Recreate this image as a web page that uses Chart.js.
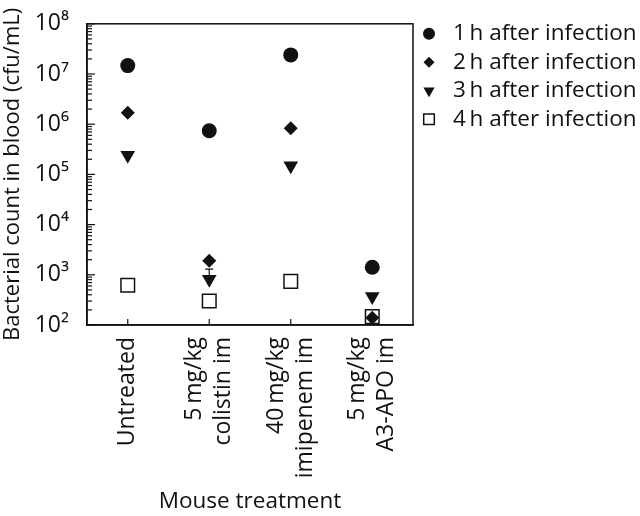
<!DOCTYPE html>
<html>
<head>
<meta charset="utf-8">
<script src="https://cdn.jsdelivr.net/npm/chart.js@4"></script>
<style>
  body { margin: 0; background: #fff; }
  #wrap { width: 640px; height: 516px; }
</style>
</head>
<body>
<div id="wrap"><canvas id="chart"></canvas></div>
<script>
var categories = ['Untreated', ['5\u2009mg/kg', 'colistin im'], ['40\u2009mg/kg', 'imipenem im'], ['5\u2009mg/kg', 'A3-APO im']];
var h1 = [1.47e7, 7.4e5, 2.4e7, 1410];
var h2 = [1.7e6, 1900, 8.3e5, 140];
var h3 = [2.4e5, 815, 1.48e5, 370];
var h4 = [620, 300, 740, 147];
var h3Upper = [null, 1300, null, null];
var seriesNames = ['1\u2009h after infection', '2\u2009h after infection', '3\u2009h after infection', '4\u2009h after infection'];
var yTicks = [1e2, 1e3, 1e4, 1e5, 1e6, 1e7, 1e8];
var sup = { '2': '\u00b2', '3': '\u00b3', '4': '\u2074', '5': '\u2075', '6': '\u2076', '7': '\u2077', '8': '\u2078' };

var FONT = "'Open Sans', sans-serif";
var INK = '#111';

// legend markers are smaller than the plot ones
var legendRadius = [6, 5.5, 6.5, 7.5];

function marker(c, style, r, rot, x, y, fill) {
  c.save();
  c.translate(x, y);
  c.rotate(rot * Math.PI / 180);
  c.beginPath();
  if (style === 'circle') {
    c.arc(0, 0, r, 0, Math.PI * 2);
  } else if (style === 'rectRot') {
    c.moveTo(-r, 0); c.lineTo(0, -r); c.lineTo(r, 0); c.lineTo(0, r); c.closePath();
  } else if (style === 'triangle') {
    for (var k = 0; k < 3; k++) {
      var a = k * 2 * Math.PI / 3;
      c[k ? 'lineTo' : 'moveTo'](Math.sin(a) * r, -Math.cos(a) * r);
    }
    c.closePath();
  } else {
    var s = r * Math.SQRT1_2;
    c.rect(-s, -s, 2 * s, 2 * s);
  }
  c.fillStyle = fill;
  c.fill();
  if (fill === '#fff') { c.lineWidth = 1.5; c.strokeStyle = INK; c.stroke(); }
  c.restore();
}

// frame, inner ticks, category labels, the one error bar and the legend
var extras = {
  id: 'extras',
  afterDraw: function (chart) {
    var c = chart.ctx, a = chart.chartArea;
    var y = chart.scales.y, x = chart.scales.x;
    c.save();
    c.strokeStyle = INK;
    c.lineWidth = 1.5;
    c.strokeRect(a.left, a.top, a.right - a.left, a.bottom - a.top);
    c.lineWidth = 1.2;
    y.ticks.forEach(function (t) {
      var py = y.getPixelForValue(t.value);
      var dec = Math.abs(Math.log10(t.value) % 1) < 1e-6;
      c.beginPath();
      c.moveTo(a.left, py);
      c.lineTo(a.left + (dec ? 8 : 5), py);
      c.stroke();
    });

    c.font = '23px ' + FONT;
    c.fillStyle = INK;
    c.textAlign = 'right';
    c.textBaseline = 'middle';
    categories.forEach(function (cat, i) {
      var px = x.getPixelForValue(i);
      c.beginPath();
      c.moveTo(px, a.bottom);
      c.lineTo(px, a.bottom - 6);
      c.stroke();
      var lines = [].concat(cat);
      lines.forEach(function (ln, j) {
        c.save();
        c.translate(px + (j - (lines.length - 1) / 2) * 29, a.bottom + 12);
        c.rotate(-Math.PI / 2);
        c.fillText(ln, 0, 0);
        c.restore();
      });
    });

    var meta = chart.getDatasetMeta(2);
    h3Upper.forEach(function (v, i) {
      if (v == null) return;
      var px = x.getPixelForValue(i);
      var top = y.getPixelForValue(v);
      var mid = meta.data[i].y;
      c.beginPath();
      c.moveTo(px - 4, top);
      c.lineTo(px + 4, top);
      c.moveTo(px, top);
      c.lineTo(px, mid);
      c.stroke();
    });

    c.font = '22.5px ' + FONT;
    c.textAlign = 'left';
    chart.data.datasets.forEach(function (d, i) {
      var ly = a.top + 10 + i * 28.5;
      marker(c, d.pointStyle, legendRadius[i], d.rotation, a.right + 16, ly, d.backgroundColor);
      c.fillStyle = INK;
      c.fillText(d.label, a.right + 40, ly);
    });
    c.restore();
  }
};

function ds(label, data, style, radius, rot, fill) {
  return {
    label: label,
    data: data,
    pointStyle: style,
    pointRadius: radius,
    pointHoverRadius: radius,
    rotation: rot,
    backgroundColor: fill,
    borderColor: INK,
    borderWidth: fill === '#fff' ? 1.5 : 0,
    showLine: false
  };
}

new Chart(document.getElementById('chart'), {
  type: 'line',
  data: {
    labels: categories,
    datasets: [
      ds(seriesNames[0], h1, 'circle', 7.5, 0, INK),
      ds(seriesNames[1], h2, 'rectRot', 7, 0, INK),
      ds(seriesNames[2], h3, 'triangle', 8.5, 180, INK),
      ds(seriesNames[3], h4, 'rect', 9.6, 0, '#fff')
    ]
  },
  options: {
    responsive: true,
    maintainAspectRatio: false,
    animation: false,
    layout: { padding: { top: 22, left: 0, right: 227, bottom: 0 } },
    plugins: {
      tooltip: { enabled: false },
      legend: { display: false }
    },
    scales: {
      x: {
        type: 'category',
        offset: true,
        grid: { display: false, drawTicks: false },
        border: { display: true, color: INK, width: 1.5 },
        afterFit: function (s) { s.height = 191; },
        ticks: { display: false },
        title: {
          display: true,
          text: 'Mouse treatment',
          color: INK,
          font: { family: FONT, size: 22.5 },
          padding: { top: 0, bottom: 1 }
        }
      },
      y: {
        type: 'logarithmic',
        min: 100,
        max: 1e8,
        grid: { display: false },
        border: { display: true, color: INK, width: 1.5 },
        afterFit: function (s) { s.width = 87; },
        afterBuildTicks: function (s) {
          var t = [];
          for (var e = 2; e < 8; e++) {
            for (var m = 1; m < 10; m++) t.push({ value: m * Math.pow(10, e) });
          }
          t.push({ value: 1e8 });
          s.ticks = t;
        },
        ticks: {
          autoSkip: false,
          color: INK,
          font: { family: FONT, size: 23 },
          padding: 10,
          callback: function (v) {
            if (yTicks.indexOf(v) < 0) return '';
            return '10' + sup[String(Math.round(Math.log10(v)))];
          }
        },
        title: {
          display: true,
          text: 'Bacterial count in blood (cfu/mL)',
          color: INK,
          font: { family: FONT, size: 22 },
          padding: { top: 0, bottom: 0 }
        }
      }
    }
  },
  plugins: [extras]
});
</script>
</body>
</html>
